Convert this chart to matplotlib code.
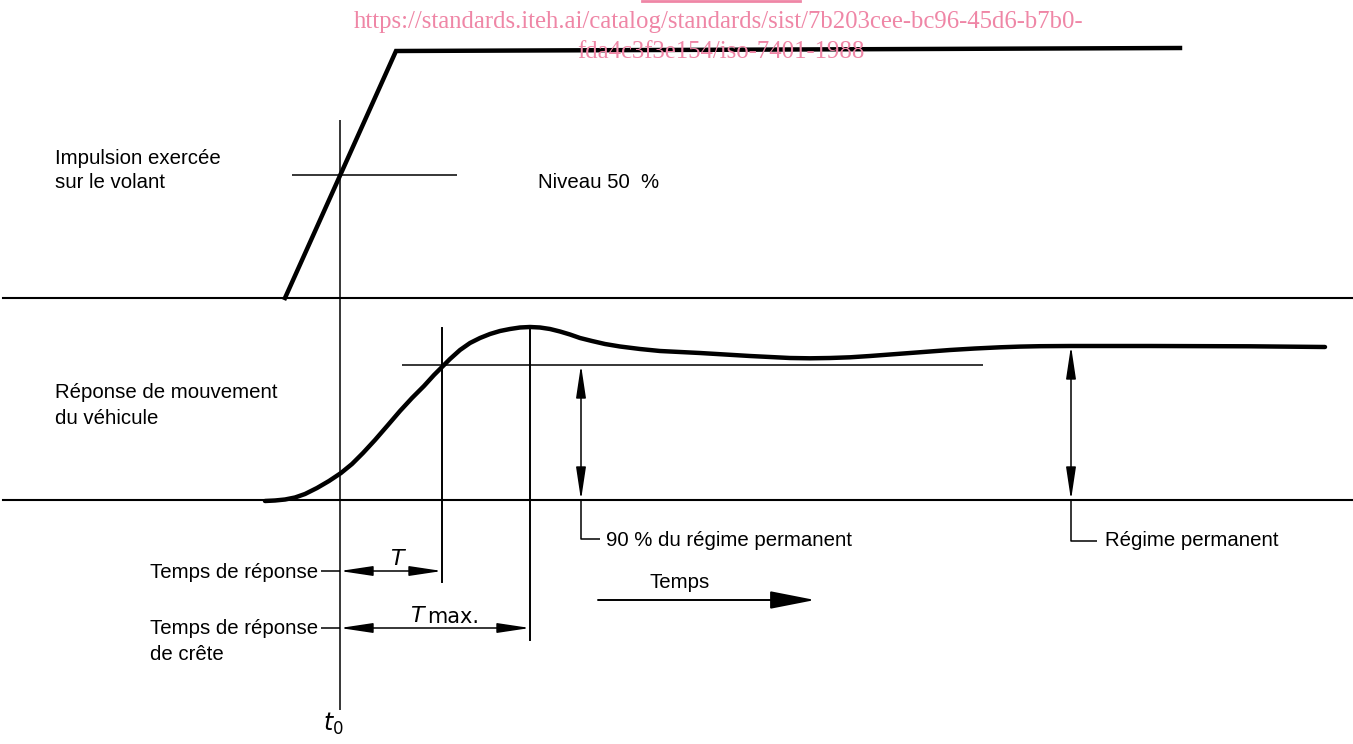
import numpy as np
import matplotlib.pyplot as plt

# diagram drawn in pixel-like units (x right, y down)
step_x = [285, 396, 1180]
step_y = [298, 51, 48]

resp_x = [265, 275, 285, 295, 305, 317, 329, 341, 352, 363, 375, 388, 400,
          412, 424, 434, 442, 450, 460, 470, 480, 490, 500, 510, 520, 530,
          540, 550, 560, 570, 580, 592, 605, 620, 640, 660, 680, 700, 725,
          750, 770, 790, 810, 830, 850, 870, 890, 910, 930, 950, 975, 1000,
          1020, 1040, 1071, 1150, 1250, 1325]
resp_y = [501, 500.5, 499.5, 497.5, 494, 488, 481, 473, 464, 453, 440, 425,
          411, 398, 386, 375, 367, 359, 350, 343, 338, 334, 331, 329, 327.5,
          327, 327.5, 329, 331.5, 334.5, 338, 341, 344, 346.5, 349, 351, 352,
          353, 354.5, 356, 357, 358, 358.3, 358, 357.3, 356, 354.5, 353,
          351.5, 350, 348.5, 347.3, 346.6, 346.2, 346, 346, 346.3, 347]

baseline_y = [298, 500]
t0_x, t_x, tmax_x = 340, 442, 530
level50_y, level90_y, steady_y = 175, 365, 346
arrow90_x, arrow_ss_x = 581, 1071

watermark = ['https://standards.iteh.ai/catalog/standards/sist/7b203cee-bc96-45d6-b7b0-',
             'fda4c3f3e154/iso-7401-1988']

fig = plt.figure(figsize=(13.53, 7.44), dpi=100)
ax = fig.add_axes([0, 0, 1, 1])
ax.set_xlim(0, 1353)
ax.set_ylim(744, 0)
ax.axis('off')

txt = dict(family='Liberation Sans', fontsize=14.7, color='black', va='center')
thin = dict(color='black', lw=1.1, solid_capstyle='butt')

# curves
ax.plot(step_x, step_y, color='black', lw=3.2, solid_joinstyle='miter')
ax.plot(resp_x, resp_y, color='black', lw=3.2, solid_capstyle='round',
        solid_joinstyle='round')

# baselines
for yb in baseline_y:
    ax.plot([3, 1353], [yb, yb], color='black', lw=1.5)

# construction lines
ax.plot([t0_x, t0_x], [120, 710], **thin)
ax.plot([292, 457], [level50_y, level50_y], **thin)
ax.plot([402, 983], [level90_y, level90_y], **thin)
ax.plot([t_x, t_x], [328, 582], lw=1.4, color='black')
ax.plot([tmax_x, tmax_x], [327, 640], lw=1.4, color='black')

# double arrows to the levels
dbl = dict(arrowstyle='<|-|>,head_length=2.0,head_width=0.3', color='black',
           lw=1.1, mutation_scale=10, shrinkA=0, shrinkB=0)
ax.annotate('', xy=(arrow90_x, level90_y), xytext=(arrow90_x, 500), arrowprops=dbl)
ax.annotate('', xy=(arrow_ss_x, steady_y), xytext=(arrow_ss_x, 500), arrowprops=dbl)

# leaders
ax.plot([arrow90_x, arrow90_x, 600], [500, 539, 539], **thin)
ax.plot([arrow_ss_x, arrow_ss_x, 1097], [500, 541, 541], **thin)
ax.text(606, 540, '90 % du régime permanent', **txt)
ax.text(1105, 540, 'Régime permanent', **txt)

# time arrows
ax.plot([321, t0_x], [571, 571], **thin)
ax.plot([321, t0_x], [628, 628], **thin)
ax.annotate('', xy=(t_x, 571), xytext=(t0_x, 571), arrowprops=dbl)
ax.annotate('', xy=(tmax_x, 628), xytext=(t0_x, 628), arrowprops=dbl)
ax.text(397, 559, 'T', family='DejaVu Sans', style='italic', fontsize=16,
        ha='center', va='center')
ax.text(410, 616, 'T', family='DejaVu Sans', style='italic', fontsize=16,
        ha='left', va='center')
ax.text(427, 617, 'max.', family='DejaVu Sans Condensed', fontsize=15,
        ha='left', va='center')

ax.annotate('', xy=(815, 600), xytext=(598, 600),
            arrowprops=dict(arrowstyle='-|>,head_length=2.8,head_width=0.55',
                            color='black', lw=1.4, mutation_scale=10,
                            shrinkA=0, shrinkB=0))
ax.text(650, 583, 'Temps', **txt)

# labels
ax.text(55, 158, 'Impulsion exercée', **txt)
ax.text(55, 183, 'sur le volant', **txt)
ax.text(538, 183, 'Niveau 50  %', **txt)
ax.text(55, 392, 'Réponse de mouvement', **txt)
ax.text(55, 418, 'du véhicule', **txt)
ax.text(318, 572, 'Temps de réponse', ha='right', **txt)
ax.text(150, 629, 'Temps de réponse', **txt)
ax.text(150, 654, 'de crête', **txt)
ax.text(333, 724, r'$t_{\mathrm{0}}$', fontsize=17, ha='center', va='center')

# watermark
pink = '#ef86a6'
ax.plot([642, 800], [1, 1], color=pink, lw=2)
ax.text(719, 22, watermark[0], family='Liberation Serif', fontsize=17.8,
        color=pink, ha='center', va='center', zorder=5)
ax.text(721, 52, watermark[1], family='Liberation Serif', fontsize=17.8,
        color=pink, ha='center', va='center', zorder=5)

fig.savefig('out.png', dpi=100)
